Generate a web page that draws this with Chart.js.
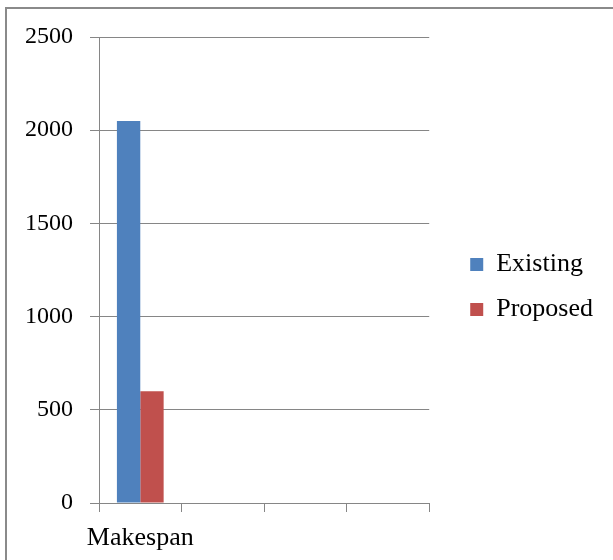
<!DOCTYPE html>
<html>
<head>
<meta charset="utf-8">
<script src="https://cdn.jsdelivr.net/npm/chart.js@4/dist/chart.umd.min.js"></script>
<style>
  html, body { margin: 0; padding: 0; background: #fff; overflow: hidden; }
  #wrap { position: relative; width: 613px; height: 560px; }
  #frame { position: absolute; left: 5px; top: 7px; width: 700px; height: 700px; border: 2px solid #8a8a8a; }
  #chart { position: absolute; left: 0; top: 0; }
</style>
</head>
<body>
<div id="wrap">
  <div id="frame"></div>
  <canvas id="chart" width="613" height="560"></canvas>
</div>
<script>
// categories along the bottom (only the first one is named)
categories = ["Makespan", "", "", ""]
existing = [2050]
proposed = [600]
yTicks = [0, 500, 1000, 1500, 2000, 2500]

gridGray = "#868686"
serif = "'Liberation Serif', 'Times New Roman', serif"

var ctx = document.getElementById("chart").getContext("2d");
var chart = new Chart(ctx, {
	type: 'bar',
	data: {
		labels: categories,
		datasets: [
			{label: "Existing", data: existing, backgroundColor: "#4F81BD"},
			{label: "Proposed", data: proposed, backgroundColor: "#C0504D"}
		]
	},
	options: {
		responsive: false,
		animation: false,
		categoryPercentage: 0.566,
		barPercentage: 1,
		layout: {padding: {left: 8, top: 37, right: 10, bottom: 0}},
		plugins: {
			tooltip: {enabled: false},
			legend: {
				position: 'right',
				align: 'start',
				maxWidth: 300,
				title: {display: true, text: '', padding: {top: 181, bottom: 0}},
				labels: {
					boxWidth: 13,
					boxHeight: 13,
					padding: 19,
					color: '#000',
					font: {family: serif, size: 26}
				}
			}
		},
		scales: {
			x: {
				grid: {display: true, drawOnChartArea: false, drawTicks: true, tickLength: 9, color: gridGray, offset: true},
				border: {display: true, color: gridGray},
				ticks: {color: '#000', padding: 11, autoSkip: false, maxRotation: 0, font: {family: serif, size: 26}},
				afterFit: function (scale) { scale.height = 57 }
			},
			y: {
				min: yTicks[0],
				max: yTicks[yTicks.length - 1],
				afterBuildTicks: function (scale) {
					scale.ticks = yTicks.map(function (v) { return {value: v} })
				},
				grid: {color: gridGray, tickLength: 9},
				border: {display: true, color: gridGray},
				ticks: {
					color: '#000', padding: 17, font: {family: serif, size: 24},
					callback: function (v) { return String(v) }
				}
			},
			// empty spacer between the plot and the legend
			gap: {
				type: 'linear',
				position: 'right',
				grid: {display: false},
				border: {display: false},
				ticks: {display: false},
				afterFit: function (scale) { scale.width = 22 }
			}
		}
	}
});
</script>
</body>
</html>
